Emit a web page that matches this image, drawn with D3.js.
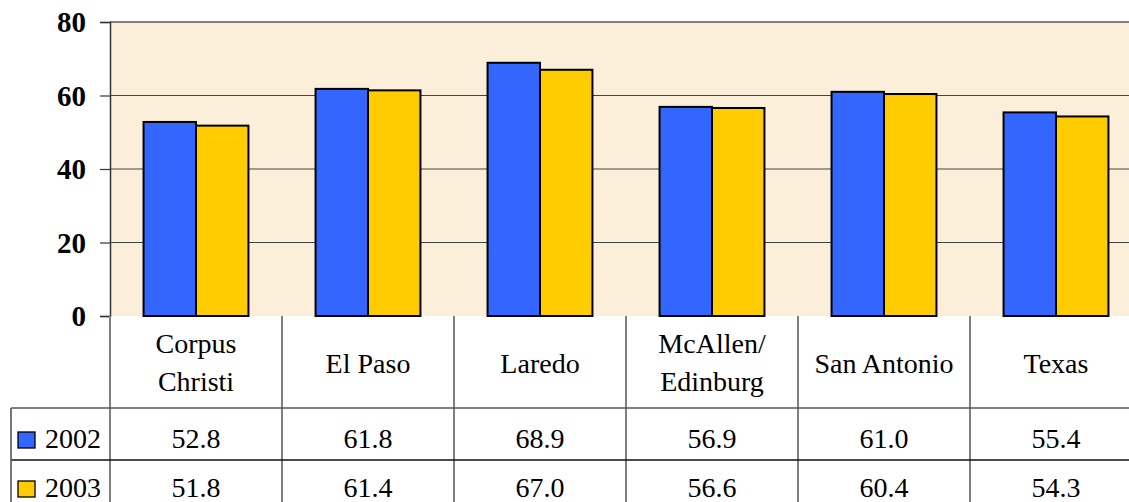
<!DOCTYPE html>
<html>
<head>
<meta charset="utf-8">
<script src="https://cdn.jsdelivr.net/npm/d3@7"></script>
<style>
  html, body { margin: 0; padding: 0; background: #fff; }
  svg { display: block; }
</style>
</head>
<body>
<svg id="chart" width="1129" height="502"></svg>
<script>
// chart values
const categories = [ [ "Corpus", "Christi" ], [ "El Paso" ], [ "Laredo" ], [ "McAllen/", "Edinburg" ], [ "San Antonio" ], [ "Texas" ] ];
const years = [ "2002", "2003" ];
const values2002 = [ 52.8, 61.8, 68.9, 56.9, 61.0, 55.4 ];
const values2003 = [ 51.8, 61.4, 67.0, 56.6, 60.4, 54.3 ];
const yTicks = [ 0, 20, 40, 60, 80 ];

const seriesValues = [ values2002, values2003 ];
const colors = [ "#3366FF", "#FFCC00" ];
const catKeys = categories.map( c => c.join( " " ) );

const plot = { left: 110, top: 22, bottom: 316, colW: 172 }; // plot frame
const rows = { header: 92, row: 52 }; // data table row heights
const legendLeft = 11;
const font = "Liberation Serif";
const fontSize = 28;

const svg = d3.select( "#chart" );

const x0 = d3.scaleBand().domain( catKeys ).range( [ plot.left, plot.left + plot.colW * catKeys.length ] ).padding( 0 );
const x1 = d3.scaleBand().domain( years ).range( [ 0, x0.bandwidth() ] ).paddingInner( 0 ).paddingOuter( 0.64 );
const y = d3.scaleLinear().domain( [ 0, 80 ] ).range( [ plot.bottom, plot.top ] );

const right = x0.range()[ 1 ];

// plot background
svg.append( "rect" )
    .attr( "x", plot.left ).attr( "y", plot.top )
    .attr( "width", right - plot.left ).attr( "height", plot.bottom - plot.top )
    .attr( "fill", "#FCEFD9" );

// gridlines
svg.append( "g" )
    .selectAll( "line" )
    .data( yTicks.filter( t => t > 0 && t < 80 ) )
    .join( "line" )
        .attr( "x1", plot.left ).attr( "x2", right )
        .attr( "y1", d => y( d ) ).attr( "y2", d => y( d ) )
        .attr( "stroke", "#444" ).attr( "stroke-width", 1.2 );

// top border
svg.append( "line" )
    .attr( "x1", plot.left ).attr( "x2", right )
    .attr( "y1", y( 80 ) ).attr( "y2", y( 80 ) )
    .attr( "stroke", "#808080" ).attr( "stroke-width", 2 );

// bars
svg.append( "g" )
    .selectAll( "g" )
    .data( catKeys )
    .join( "g" )
        .attr( "transform", d => `translate(${x0( d )},0)` )
        .selectAll( "rect" )
        .data( ( d, i ) => years.map( ( yr, s ) => ( { yr, s, v: seriesValues[ s ][ i ] } ) ) )
        .join( "rect" )
            .attr( "x", d => x1( d.yr ) )
            .attr( "y", d => y( d.v ) )
            .attr( "width", x1.bandwidth() )
            .attr( "height", d => y( 0 ) - y( d.v ) )
            .attr( "fill", d => colors[ d.s ] )
            .attr( "stroke", "#000" ).attr( "stroke-width", 2 );

// y axis
const yAxis = svg.append( "g" )
    .attr( "transform", `translate(${plot.left},0)` )
    .call( d3.axisLeft( y ).tickValues( yTicks ).tickSize( 10 ).tickPadding( 14 ) );
yAxis.select( ".domain" ).attr( "stroke", "#333" ).attr( "stroke-width", 1.5 );
yAxis.selectAll( ".tick line" ).attr( "stroke", "#333" ).attr( "stroke-width", 1.2 );
yAxis.selectAll( ".tick text" )
    .style( "font-family", font ).style( "font-size", "29px" ).style( "font-weight", "bold" )
    .attr( "fill", "#000" ).attr( "dy", "0.34em" );

// data table
const table = svg.append( "g" );
const rowTop = plot.bottom + rows.header;
const tableBottom = rowTop + rows.row * 2;

// vertical column lines
table.selectAll( ".vline" )
    .data( catKeys.concat( [ null ] ) )
    .join( "line" )
        .attr( "class", "vline" )
        .attr( "x1", d => d ? x0( d ) : right )
        .attr( "x2", d => d ? x0( d ) : right )
        .attr( "y1", plot.bottom ).attr( "y2", tableBottom )
        .attr( "stroke", "#808080" ).attr( "stroke-width", 2 );

// horizontal row lines
table.append( "line" )
    .attr( "x1", legendLeft ).attr( "x2", right )
    .attr( "y1", rowTop ).attr( "y2", rowTop )
    .attr( "stroke", "#555" ).attr( "stroke-width", 1.6 );
table.append( "line" )
    .attr( "x1", legendLeft ).attr( "x2", right )
    .attr( "y1", rowTop + rows.row ).attr( "y2", rowTop + rows.row )
    .attr( "stroke", "#111" ).attr( "stroke-width", 1.6 );
table.append( "line" )
    .attr( "x1", legendLeft ).attr( "x2", legendLeft )
    .attr( "y1", rowTop ).attr( "y2", tableBottom )
    .attr( "stroke", "#555" ).attr( "stroke-width", 1.6 );

// category headers
table.selectAll( ".cat" )
    .data( categories )
    .join( "text" )
        .attr( "class", "cat" )
        .attr( "x", ( d, i ) => x0( catKeys[ i ] ) + x0.bandwidth() / 2 )
        .attr( "y", d => d.length > 1 ? plot.bottom + 37 : plot.bottom + 57 )
        .attr( "text-anchor", "middle" )
        .style( "font-family", font ).style( "font-size", fontSize + "px" )
        .attr( "fill", "#000" )
        .selectAll( "tspan" )
        .data( d => d )
        .join( "tspan" )
            .attr( "x", function() { return d3.select( this.parentNode ).attr( "x" ); } )
            .attr( "dy", ( d, i ) => i === 0 ? 0 : 38 )
            .text( d => d );

// value rows with legend keys
years.forEach( ( yr, s ) => {
    const base = rowTop + rows.row * s + 40 - s * 3;
    table.append( "rect" )
        .attr( "x", 18 ).attr( "y", base - 16 )
        .attr( "width", 17 ).attr( "height", 16 )
        .attr( "fill", colors[ s ] ).attr( "stroke", "#000" ).attr( "stroke-width", 1.3 );
    table.append( "text" )
        .attr( "x", 45 ).attr( "y", base )
        .style( "font-family", font ).style( "font-size", fontSize + "px" ).attr( "fill", "#000" )
        .text( yr );
    table.selectAll( ".v" + yr )
        .data( seriesValues[ s ] )
        .join( "text" )
            .attr( "class", "v" + yr )
            .attr( "x", ( d, i ) => x0( catKeys[ i ] ) + x0.bandwidth() / 2 )
            .attr( "y", base )
            .attr( "text-anchor", "middle" )
            .style( "font-family", font ).style( "font-size", fontSize + "px" ).attr( "fill", "#000" )
            .text( d => d.toFixed( 1 ) );
} );
</script>
</body>
</html>
